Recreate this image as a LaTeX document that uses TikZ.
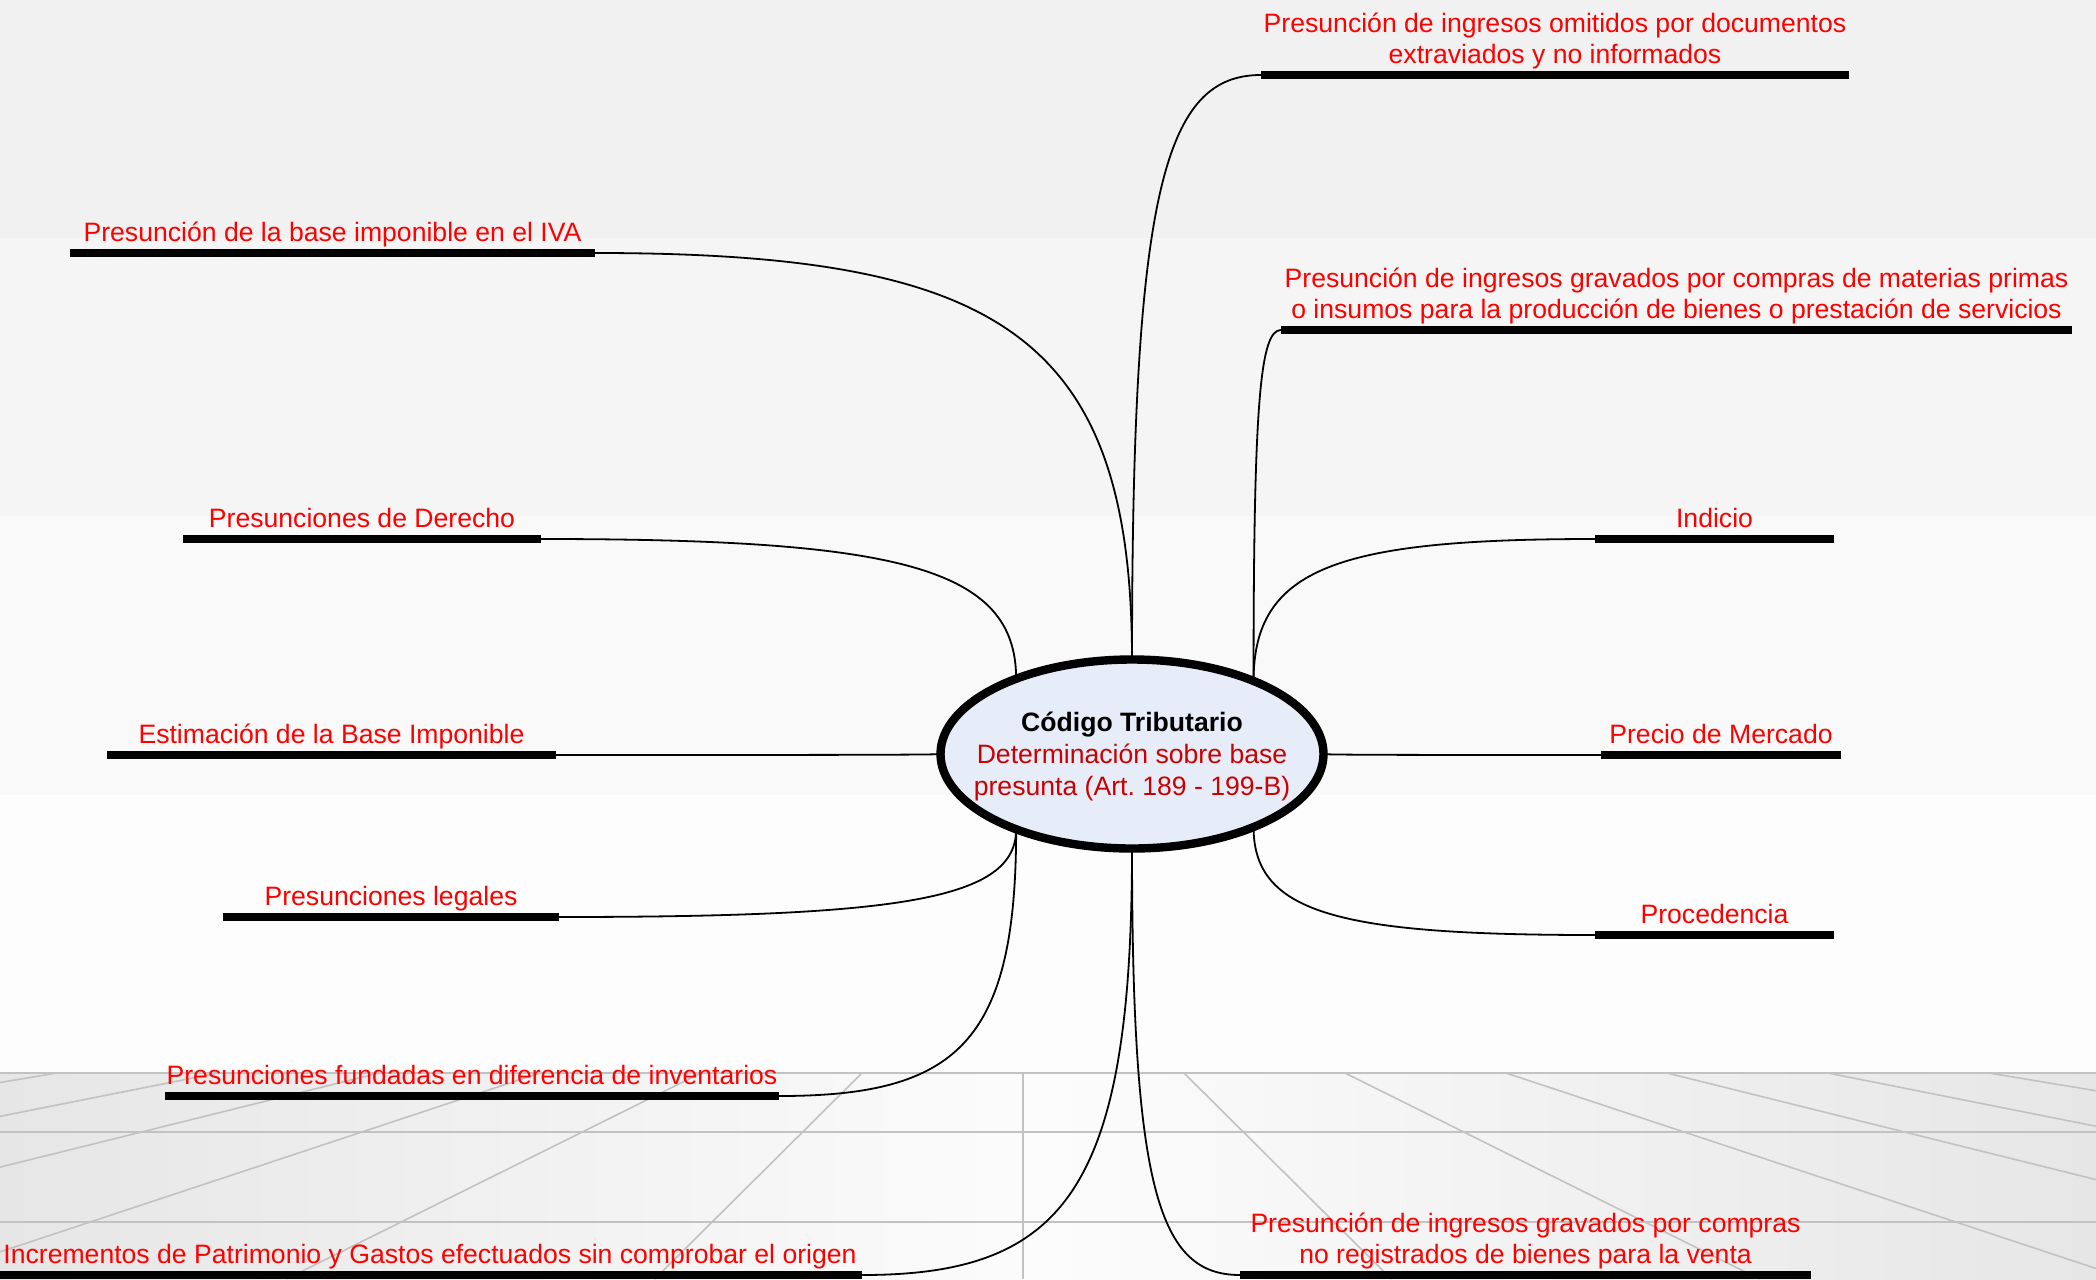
\documentclass[tikz,border=0pt]{standalone}
\usepackage{fontspec}
\setmainfont{Liberation Sans}
\usetikzlibrary{calc,shapes.geometric}
\definecolor{labelred}{HTML}{FF0000}
\definecolor{rootred}{HTML}{CC0000}
\definecolor{rootfill}{HTML}{E6EDF8}
\definecolor{bandA}{HTML}{F1F1F1}
\definecolor{bandB}{HTML}{F5F5F5}
\definecolor{bandC}{HTML}{F9F9F9}
\definecolor{bandD}{HTML}{FDFDFD}
\definecolor{floorside}{HTML}{E6E6E6}
\definecolor{floormid}{HTML}{FCFCFC}
\definecolor{floorgrid}{HTML}{C2C2C2}
\begin{document}
\begin{tikzpicture}[x=0.5pt,y=-0.5pt,
	bar/.style={line width=4pt},
	link/.style={line width=0.9pt,
		to path={.. controls ($(\tikztostart)!0.8!(\tikztostart |- \tikztotarget)$)
			and ($(\tikztostart |- \tikztotarget)!0.25!(\tikztotarget)$) .. (\tikztotarget)}},
	branchtext/.style={font=\myfontbranch, text=labelred, align=center, anchor=south, inner sep=0pt, yshift=1pt},
	rootshape/.style={ellipse, draw, line width=4.2pt, fill=rootfill, minimum width=191.5pt, minimum height=94.5pt, inner sep=0pt, outer sep=0pt},
	floorline/.style={draw=floorgrid, line width=0.8pt}]
			\newcommand{\myfontbranch}{\fontsize{13.3}{15.5}\selectfont}
			\newcommand{\myfontroot}{\fontsize{13.3}{16}\selectfont}
			\useasboundingbox (0,0) rectangle (2096,1279);
			%Background bands
			\fill[bandA] (0,0) rectangle (2096,238);
			\fill[bandB] (0,238) rectangle (2096,516);
			\fill[bandC] (0,516) rectangle (2096,795);
			\fill[bandD] (0,795) rectangle (2096,1073);
			%Floor with perspective grid
			\shade[left color=floorside, right color=floorside, middle color=floormid] (0,1073) rectangle (2096,1279);
			\begin{scope}
				\clip (0,1073) rectangle (2096,1279);
				\foreach \k in {-6,...,6} {
					\draw[floorline] (1023+161*\k,1073) -- (1023+368.3*\k,1279);
				}
			\end{scope}
			\foreach \y in {1073,1132,1222} {
				\draw[floorline] (0,\y) -- (2096,\y);
			}
			%Central topic
			\node[rootshape] (root) at (1132,754) {};
			\node[font=\myfontroot, text=rootred, align=center, inner sep=0pt] (rootText) at ($(root.center)+(0,2)$)
				{\textcolor{black}{\textbf{Código Tributario}}\\Determinación sobre base\\presunta (Art.\ 189 - 199-B)};
			%Ends of the bars, left side
			\coordinate (ivaL) at (70,253);
			\coordinate (ivaR) at (595,253);
			\coordinate (derL) at (183,539);
			\coordinate (derR) at (541,539);
			\coordinate (estL) at (107,755);
			\coordinate (estR) at (556,755);
			\coordinate (legL) at (223,917);
			\coordinate (legR) at (559,917);
			\coordinate (funL) at (165,1096);
			\coordinate (funR) at (779,1096);
			\coordinate (incL) at (-2,1275);
			\coordinate (incR) at (862,1275);
			%Ends of the bars, right side
			\coordinate (omiL) at (1261,75);
			\coordinate (omiR) at (1849,75);
			\coordinate (matL) at (1281,330);
			\coordinate (matR) at (2072,330);
			\coordinate (indL) at (1595,539);
			\coordinate (indR) at (1834,539);
			\coordinate (preL) at (1601,755);
			\coordinate (preR) at (1841,755);
			\coordinate (proL) at (1595,935);
			\coordinate (proR) at (1834,935);
			\coordinate (norL) at (1240,1275);
			\coordinate (norR) at (1811,1275);
			%Connectors from the central topic
			\draw[link] (root.90) to (ivaR);
			\draw[link] (root.147) to (derR);
			\draw[link] (root.west) to (estR);
			\draw[link] (root.213) to (legR);
			\draw[link] (root.213) to (funR);
			\draw[link] (root.south) to (incR);
			\draw[link] (root.90) to (omiL);
			\draw[link] (root.31) to (matL);
			\draw[link] (root.31) to (indL);
			\draw[link] (root.east) to (preL);
			\draw[link] (root.329) to (proL);
			\draw[link] (root.south) to (norL);
			%Bars
			\foreach \b in {iva,der,est,leg,fun,inc,omi,mat,ind,pre,pro,nor} {
				\draw[bar] (\b L) -- (\b R);
			}
			%Labels, left side
			\node[branchtext] (ivaText) at ($(ivaL)!0.5!(ivaR)$) {Presunción de la base imponible en el IVA\strut};
			\node[branchtext] (derText) at ($(derL)!0.5!(derR)$) {Presunciones de Derecho\strut};
			\node[branchtext] (estText) at ($(estL)!0.5!(estR)$) {Estimación de la Base Imponible\strut};
			\node[branchtext] (legText) at ($(legL)!0.5!(legR)$) {Presunciones legales\strut};
			\node[branchtext] (funText) at ($(funL)!0.5!(funR)$) {Presunciones fundadas en diferencia de inventarios\strut};
			\node[branchtext] (incText) at ($(incL)!0.5!(incR)$) {Incrementos de Patrimonio y Gastos efectuados sin comprobar el origen\strut};
			%Labels, right side
			\node[branchtext] (omiText) at ($(omiL)!0.5!(omiR)$) {Presunción de ingresos omitidos por documentos\\extraviados y no informados\strut};
			\node[branchtext] (matText) at ($(matL)!0.5!(matR)$) {Presunción de ingresos gravados por compras de materias primas\\o insumos para la producción de bienes o prestación de servicios\strut};
			\node[branchtext] (indText) at ($(indL)!0.5!(indR)$) {Indicio\strut};
			\node[branchtext] (preText) at ($(preL)!0.5!(preR)$) {Precio de Mercado\strut};
			\node[branchtext] (proText) at ($(proL)!0.5!(proR)$) {Procedencia\strut};
			\node[branchtext] (norText) at ($(norL)!0.5!(norR)$) {Presunción de ingresos gravados por compras\\no registrados de bienes para la venta\strut};
\end{tikzpicture}
\end{document}
